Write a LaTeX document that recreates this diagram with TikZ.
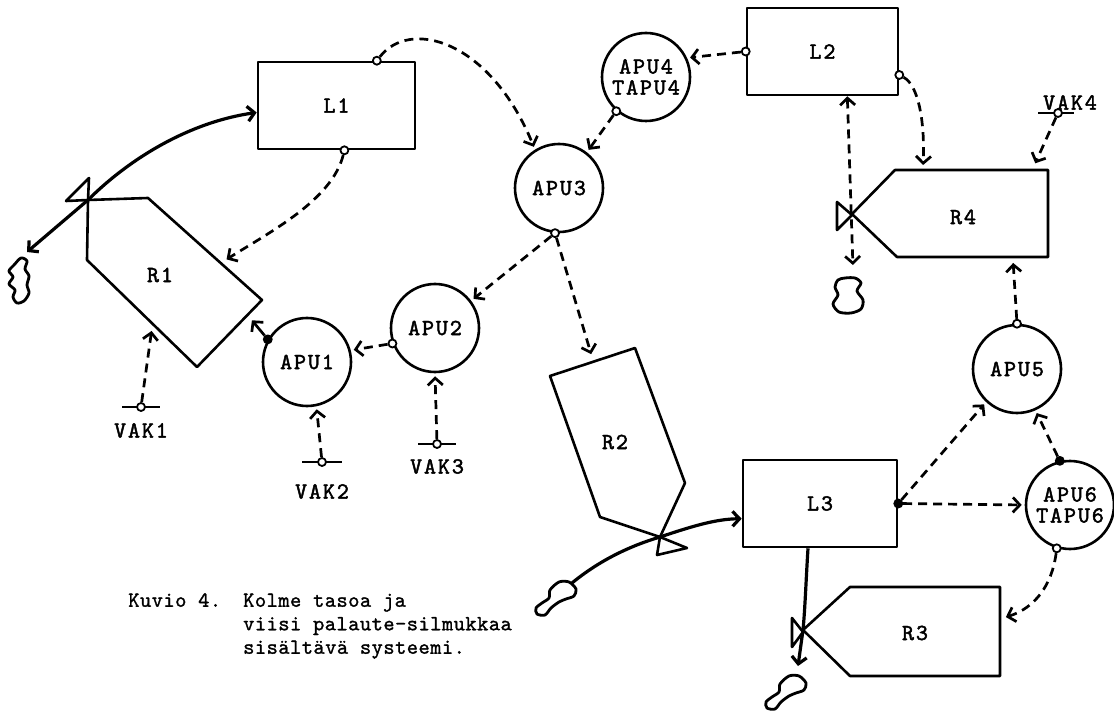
\documentclass[tikz,border=0pt]{standalone}
\usepackage{fontspec}
\newfontfamily\lblfont{lmmono10-regular}[Extension=.otf, LetterSpace=8, FakeBold=2]
\newfontfamily\capfont{lmmono10-regular}[Extension=.otf, LetterSpace=2, FakeBold=1.3]
\usetikzlibrary{arrows.meta, positioning}
\newcommand{\lbl}{\lblfont\fontsize{23}{21}\selectfont}
\tikzset{
  every picture/.style={line width=2.6pt, line join=round, >={Straight Barb[length=7pt,width=15pt]}},
  lvl/.style={draw, rectangle, minimum width=#1, minimum height=87pt, inner sep=0pt, font=\lbl},
  lvl/.default=154pt,
  aux/.style={draw, circle, minimum size=88pt, inner sep=0pt, align=center, font=\lbl},
  port/.style={draw, circle, fill=white, inner sep=0pt, minimum size=8pt, line width=1.8pt},
  portdot/.style={port, fill=black},
  info/.style={->, dash pattern=on 9pt off 6pt, line width=2.7pt, shorten >=3pt},
  flow/.style={->, line width=3.2pt},
  rate/.style={draw, line width=2.6pt},
  blob/.style={draw, line width=2.8pt},
  lab/.style={font=\lbl, inner sep=0pt},
  captext/.style={font=\capfont\fontsize{21.5}{23.5}\selectfont, inner sep=0pt},
}

\begin{document}
\begin{tikzpicture}[x=1pt, y=-1pt]
  \useasboundingbox (0,0) rectangle (1114,711);

  % levels
  \node[lvl=157pt] (L1) at (336.5,105.5) {L1};
  \node[lvl=151pt] (L2) at (822.5,51.5) {L2};
  \node[lvl=154pt] (L3) at (820,503.5) {L3};

  % auxiliaries
  \node[aux] (APU1) at (307,362) {APU1};
  \node[aux] (APU2) at (435,328) {APU2};
  \node[aux] (APU3) at (559,188) {APU3};
  \node[aux] (APU4) at (646,77) {APU4\\TAPU4};
  \node[aux] (APU5) at (1017,369) {APU5};
  \node[aux] (APU6) at (1070,505) {APU6\\TAPU6};

  % rates with their valves
  \draw[rate] (88,200) -- (148,198) -- (262,300) -- (197,367) -- (87,260) -- cycle;
  \draw[rate] (66,201) -- (89,178) -- (88,200) -- cycle;
  \node[lab] (R1) at (160,275) {R1};
  \draw[rate] (550,376) -- (635,348) -- (685,483) -- (660,537) -- (600,517) -- cycle;
  \draw[rate] (660,537) -- (657,555) -- (687,548) -- cycle;
  \node[lab] (R2) at (615,442) {R2};
  \draw[rate] (803,630) -- (850,587) -- (1000,587) -- (1000,676) -- (850,676) -- cycle;
  \draw[rate] (792,618) -- (792,647) -- (803,632) -- cycle;
  \node[lab] (R3) at (915,633) {R3};
  \draw[rate] (852,214) -- (895,170) -- (1048,170) -- (1048,257) -- (897,257) -- cycle;
  \draw[rate] (837,202) -- (837,230) -- (852,215) -- cycle;
  \node[lab] (R4) at (963,217) {R4};

  \coordinate (v1) at (88,200);
  \coordinate (v2) at (660,537);
  \coordinate (v3) at (803,630);
  \coordinate (r1in) at (224,261);
  \coordinate (r1ctl) at (250,318);
  \coordinate (r1vak) at (152,328);
  \coordinate (r2in) at (592,357);
  \coordinate (r3ctl) at (1003,618);
  \coordinate (r4in) at (923,168);
  \coordinate (r4vak) at (1034,166);
  \coordinate (r4ctl) at (1013,260);

  % clouds
  \draw[blob, shift={(19,280)}] plot[smooth cycle] coordinates {(2,-22) (8,-19) (6,-11) (10,-4) (8,5) (10,13) (5,21) (-2,23) (-6,17) (-4,10) (-10,4) (-6,-3) (-10,-9) (-5,-15)};
  \draw[blob, shift={(848,295)}] plot[smooth cycle] coordinates {(-3,-17) (7,-17) (13,-12) (9,-4) (15,5) (13,14) (3,18) (-9,17) (-15,9) (-10,0) (-13,-8) (-10,-15)};
  \draw[blob, shift={(555,598)}] plot[smooth cycle] coordinates {(4,-16) (14,-16) (21,-9) (19,-2) (11,1) (4,4) (-4,10) (-10,17) (-18,16) (-19,10) (-13,5) (-6,0) (-5,-8)};
  \draw[blob, shift={(785,692)}] plot[smooth cycle] coordinates {(4,-16) (14,-16) (21,-9) (19,-2) (11,1) (4,4) (-4,10) (-10,17) (-18,16) (-19,10) (-13,5) (-6,0) (-5,-8)};
  \coordinate (c1) at (27,252);
  \coordinate (c2) at (572,583);
  \coordinate (c3) at (798,666);
  \coordinate (c4) at (853,268);

  % flows
  \draw[flow, <->] (c1) -- (v1) .. controls (130,158) and (190,122) .. (L1.185);
  \draw[flow] (c2) .. controls (600,560) and (630,546) .. (v2) .. controls (690,527) and (715,519) .. (L3.191);
  \draw[flow] (L3.-105) .. controls (806,580) and (805,610) .. (v3) -- (c3);

  % constants
  \draw (122,407) -- (160,407);
  \node[port] (vak1) at (141,407) {};
  \node[lab, below=10pt of vak1] (vak1lab) {VAK1};
  \draw (302,462) -- (342,462);
  \node[port] (vak2) at (322,462) {};
  \node[lab, below=16pt of vak2] (vak2lab) {VAK2};
  \draw (418,444) -- (456,444);
  \node[port] (vak3) at (437,444) {};
  \node[lab, below=9pt of vak3] (vak3lab) {VAK3};
  \draw (1038,113) -- (1074,113);
  \node[port] (vak4) at (1058,113) {};
  \node[lab, above=-3pt of vak4, xshift=12pt] (vak4lab) {VAK4};

  % pick-off points
  \node[port] (pL1t) at (L1.48) {};
  \node[port] (pL1b) at (L1.-80) {};
  \node[portdot] (pA1) at (APU1.150) {};
  \node[port] (pA2) at (APU2.200) {};
  \node[port] (pA3) at (APU3.265) {};
  \node[port] (pA4) at (APU4.229) {};
  \node[port] (pL2l) at (L2.west) {};
  \node[port] (pL2r) at (L2.-17) {};
  \node[port] (pA5) at (APU5.north) {};
  \node[portdot] (pL3) at (L3.east) {};
  \node[portdot] (pA6t) at (APU6.103) {};
  \node[port] (pA6b) at (APU6.253) {};

  % information links
  \draw[info] (pL1t) .. controls (410,18) and (490,40) .. (APU3.122);
  \draw[info] (pL1b) .. controls (332,200) and (270,232) .. (r1in);
  \draw[info, solid] (pA1) -- (r1ctl);
  \draw[info] (pA2) -- (APU1.15);
  \draw[info] (pA3) -- (APU2.37);
  \draw[info] (pA3) -- (r2in);
  \draw[info] (pA4) -- (APU3.52);
  \draw[info] (pL2l) -- (APU4.25);
  \draw[info] (pL2r) .. controls (918,85) and (925,120) .. (r4in);
  \draw[info, <->] (L2.-61) -- (c4);
  \draw[info] (vak4) -- (r4vak);
  \draw[info] (pA5) -- (r4ctl);
  \draw[info] (pL3) -- (APU5.227);
  \draw[info] (pL3) -- (APU6.west);
  \draw[info] (pA6t) -- (APU5.-66);
  \draw[info] (pA6b) .. controls (1052,585) and (1035,608) .. (r3ctl);
  \draw[info] (vak1) -- (r1vak);
  \draw[info] (vak2) -- (APU1.-78);
  \draw[info] (vak3) -- (APU2.-90);

  \node[captext, anchor=north west] (caption) at (127,589) {%
    \begin{tabular}{@{}l@{\hspace{22pt}}l@{}}
      Kuvio 4. & Kolme tasoa ja\\
               & viisi palaute-silmukkaa\\
               & sisältävä systeemi.
    \end{tabular}};
\end{tikzpicture}
\end{document}
